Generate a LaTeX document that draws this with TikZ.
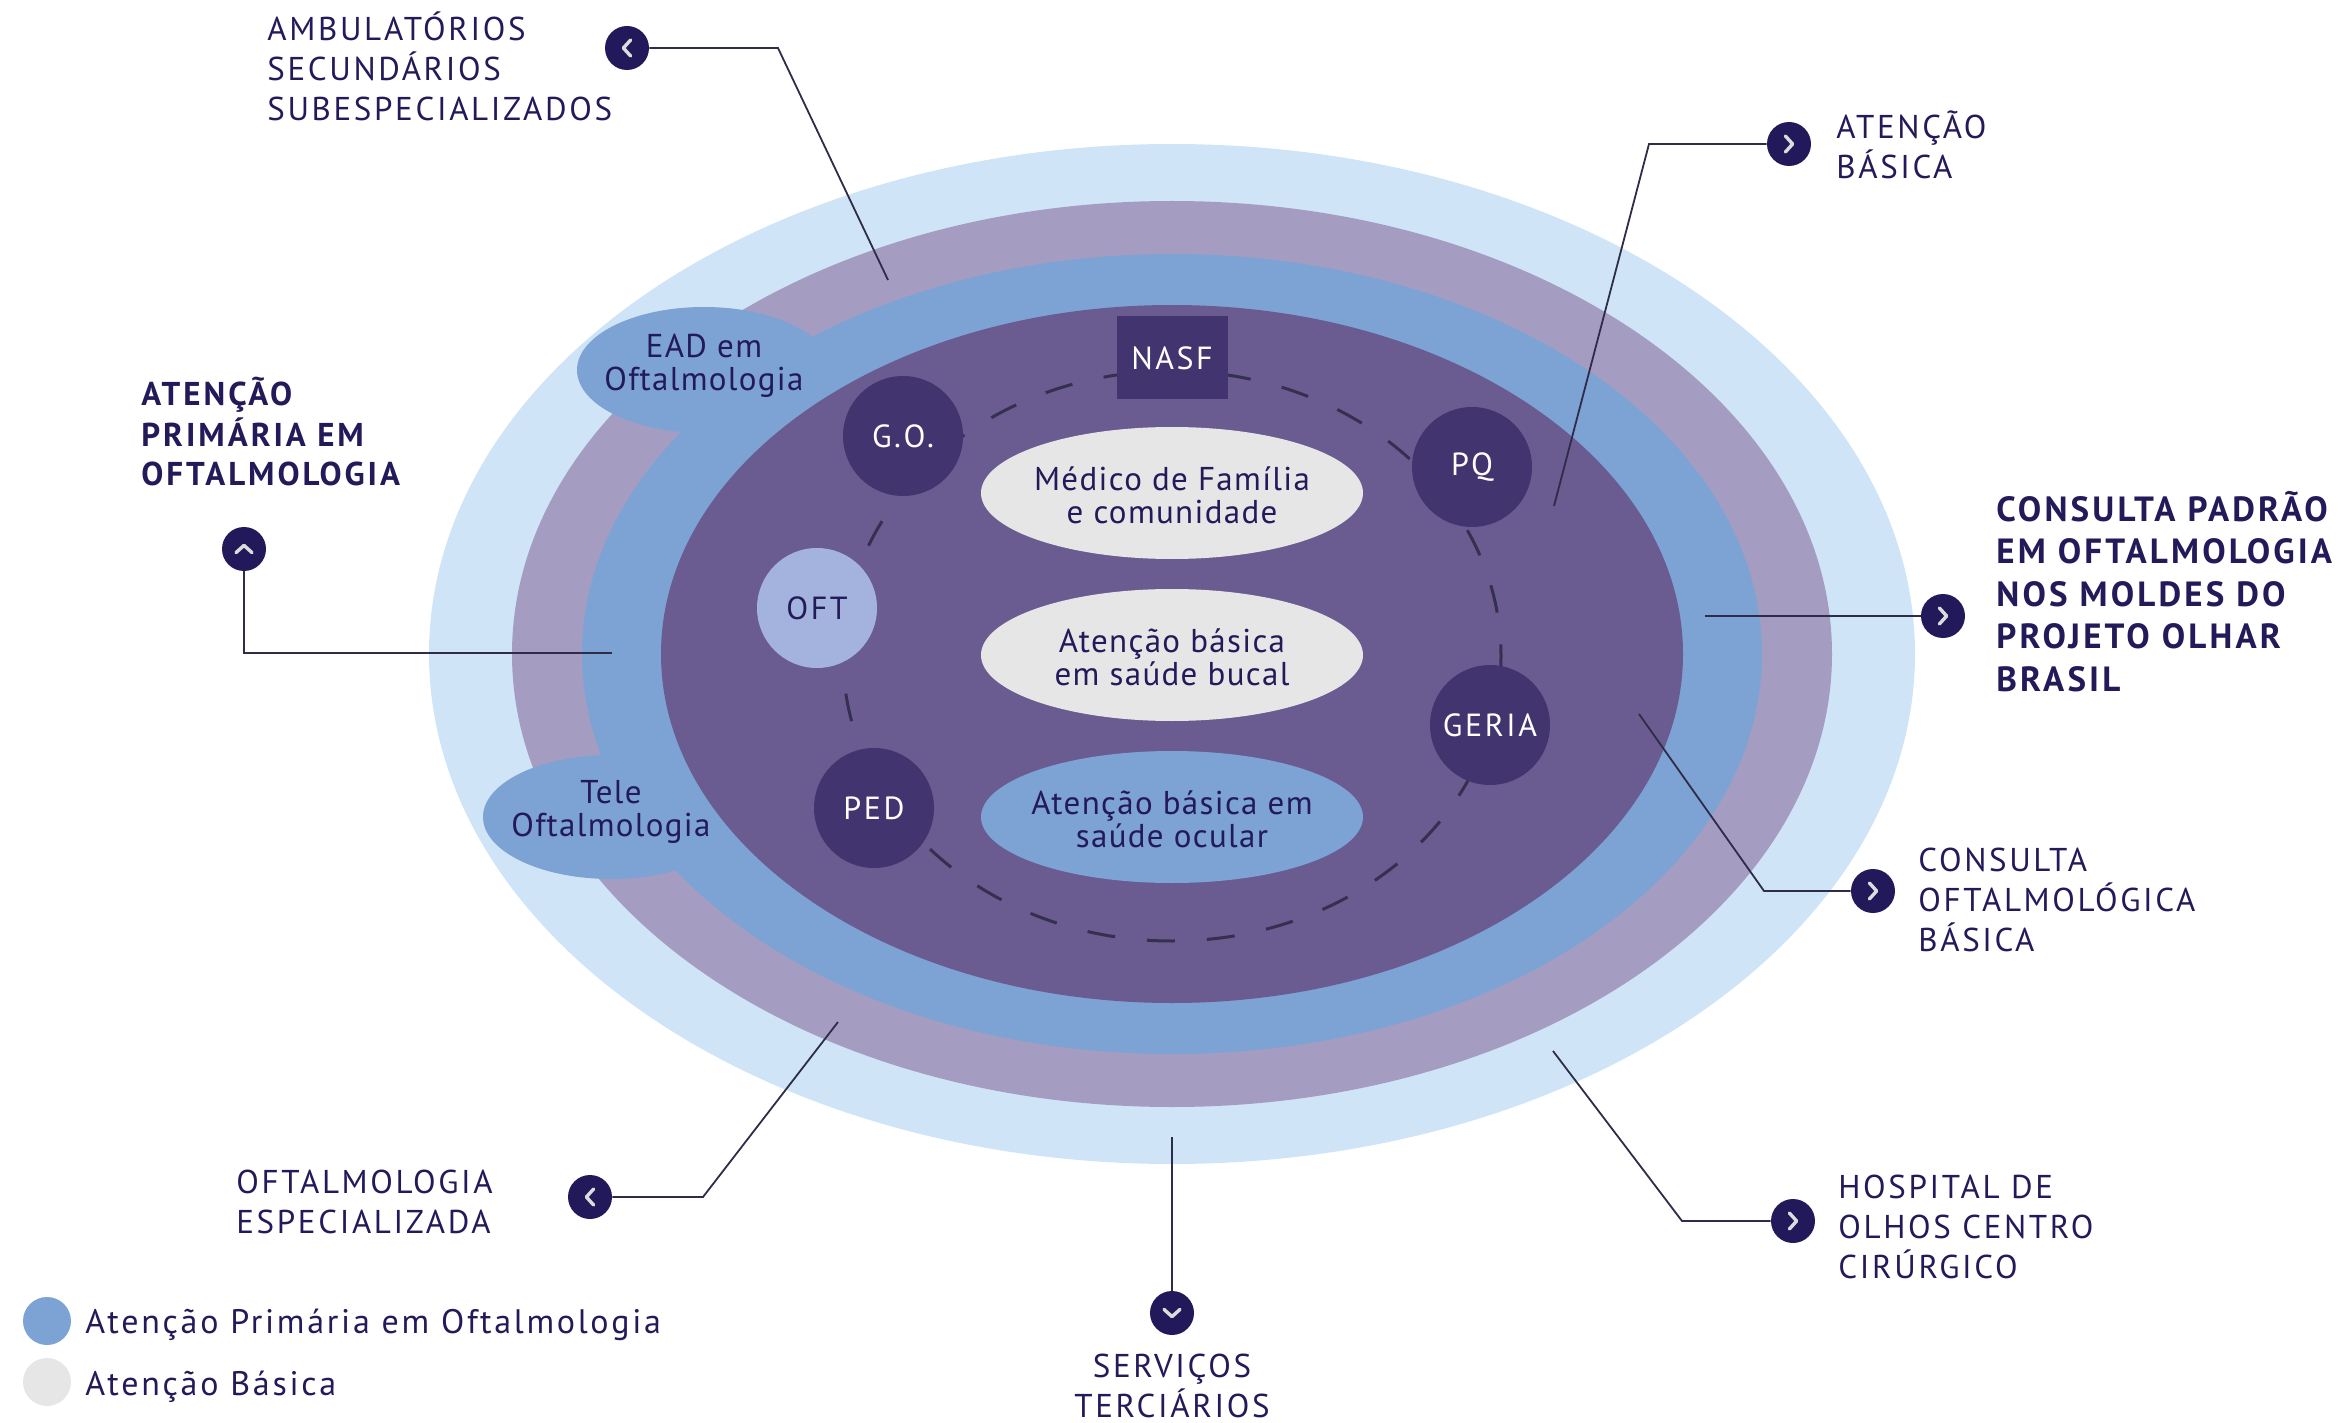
\documentclass[tikz,border=0pt]{standalone}
\usepackage{fontspec}
\setmainfont{PT Sans}
\newfontfamily\lblfont[LetterSpace=8]{PT Sans}
\newfontfamily\lblBfont[LetterSpace=9]{PT Sans Bold}
\newfontfamily\inFont[LetterSpace=4]{PT Sans}
\usetikzlibrary{shapes.geometric}
\definecolor{ringA}{HTML}{CFE5F7}
\definecolor{ringB}{HTML}{A59DC1}
\definecolor{ringC}{HTML}{7DA2D4}
\definecolor{ringD}{HTML}{6A5B91}
\definecolor{dk}{HTML}{42356F}
\definecolor{oftc}{HTML}{A3B3DE}
\definecolor{lg}{HTML}{E6E6E6}
\definecolor{navy}{HTML}{231A5A}
\definecolor{mkc}{HTML}{22195A}
\definecolor{linec}{HTML}{2E2C48}
\definecolor{dashc}{HTML}{35304F}
\definecolor{chevc}{HTML}{DCDCDC}
\tikzset{
  lbl/.style={font=\lblfont\fontsize{16.5}{20}\selectfont, text=navy, align=left, inner sep=0pt, anchor=base west},
  lblb/.style={font=\lblBfont\fontsize{16.5}{20}\selectfont, text=navy, align=left, inner sep=0pt, anchor=base west},
  cell/.style={ellipse, minimum width=191pt, minimum height=66pt, inner sep=0pt},
  ctext/.style={font=\inFont\fontsize{16.5}{16.5}\selectfont, text=navy, align=center, inner sep=0pt},
  blob/.style={ellipse, fill=ringC, inner sep=0pt},
  sat/.style={circle, fill=dk, minimum size=60pt, inner sep=0pt, text=white, font=\lblfont\fontsize{16}{16}\selectfont},
  chev/.style={draw=chevc, line width=1.7pt, line cap=round, line join=round},
  mk/.style={circle, fill=mkc, minimum size=22pt, inner sep=0pt},
  mkR/.style={mk, path picture={\draw[chev] ([xshift=-1.8pt,yshift=4pt]path picture bounding box.center) -- ++(3.6pt,-4pt) -- ++(-3.6pt,-4pt);}},
  mkL/.style={mk, path picture={\draw[chev] ([xshift=1.8pt,yshift=4pt]path picture bounding box.center) -- ++(-3.6pt,-4pt) -- ++(3.6pt,-4pt);}},
  mkU/.style={mk, path picture={\draw[chev] ([xshift=-4pt,yshift=-1.8pt]path picture bounding box.center) -- ++(4pt,3.6pt) -- ++(4pt,-3.6pt);}},
  mkD/.style={mk, path picture={\draw[chev] ([xshift=-4pt,yshift=1.8pt]path picture bounding box.center) -- ++(4pt,-3.6pt) -- ++(4pt,3.6pt);}},
  cl/.style={draw=linec, line width=0.9pt},
  legdot/.style={circle, minimum size=24pt, inner sep=0pt},
}
\begin{document}
\begin{tikzpicture}[x=0.5pt, y=-0.5pt]
\useasboundingbox (0,0) rectangle (2347,1423);
% rings
\fill[ringA] (1172,654) ellipse [x radius=743, y radius=510];
\fill[ringB] (1172,654) ellipse [x radius=660, y radius=453];
\fill[ringC] (1172,654) ellipse [x radius=590, y radius=400];
\node[blob, minimum width=127pt, minimum height=63pt] (ead) at (704,370) {};
\node[blob, minimum width=128pt, minimum height=62pt] (tele) at (611,817) {};
\fill[ringD] (1172,654) ellipse [x radius=511, y radius=349];
\node[ctext] (eadt) at (704,366) {EAD em\\Oftalmologia};
\node[ctext] (telet) at (611,812) {Tele\\Oftalmologia};
% dashed ring
\draw[dashc, line width=1.5pt, dash pattern=on 14pt off 16pt] (1172,656) ellipse [x radius=329, y radius=285];
% satellites
\node[sat] (go) at (903,436) {G.O.};
\node[sat] (pq) at (1472,467) {PQ};
\node[sat] (geria) at (1490,725) {GERIA};
\node[sat] (ped) at (874,808) {PED};
\node[sat, fill=oftc, text=navy] (oft) at (817,608) {OFT};
\node[rectangle, fill=dk, minimum width=55.5pt, minimum height=41.5pt, inner sep=0pt, text=white, font=\lblfont\fontsize{16}{16}\selectfont] (nasf) at (1172,358) {NASF};
% centre cells
\node[cell, fill=lg] (med) at (1172,493) {};
\node[ctext] (medt) at (1172,495) {Médico de Família\\e comunidade};
\node[cell, fill=lg] (buc) at (1172,655) {};
\node[ctext] (buct) at (1172,657) {Atenção básica\\em saúde bucal};
\node[cell, fill=ringC] (ocu) at (1172,817) {};
\node[ctext] (ocut) at (1172,819) {Atenção básica em\\saúde ocular};
% labels (anchor = baseline of last line)
\node[lbl] (tamb) at (267,121) {AMBULATÓRIOS\\SECUNDÁRIOS\\SUBESPECIALIZADOS};
\node[lblb] (tapo) at (141,486) {ATENÇÃO\\PRIMÁRIA EM\\OFTALMOLOGIA};
\node[lbl] (tab) at (1836,179) {ATENÇÃO\\BÁSICA};
\node[lblb, font=\lblBfont\fontsize{17.5}{21.25}\selectfont] (tcp) at (1996,691) {CONSULTA PADRÃO\\EM OFTALMOLOGIA\\NOS MOLDES DO\\PROJETO OLHAR\\BRASIL};
\node[lbl] (tcob) at (1918,951) {CONSULTA\\OFTALMOLÓGICA\\BÁSICA};
\node[lbl] (thoc) at (1838,1278) {HOSPITAL DE\\OLHOS CENTRO\\CIRÚRGICO};
\node[lbl, align=center, anchor=base] (tst) at (1172,1417) {SERVIÇOS\\TERCIÁRIOS};
\node[lbl] (toe) at (236,1233) {OFTALMOLOGIA\\ESPECIALIZADA};
% markers
\node[mkL] (mamb) at (627,48) {};
\node[mkU] (mapo) at (244,549) {};
\node[mkR] (mab) at (1789,144) {};
\node[mkR] (mcp) at (1943,616) {};
\node[mkR] (mcob) at (1873,891) {};
\node[mkR] (mhoc) at (1793,1221) {};
\node[mkD] (mst) at (1172,1313) {};
\node[mkL] (moe) at (590,1197) {};
% connector ends
\coordinate (eamb) at (888,280);
\coordinate (kamb) at (778,48);
\coordinate (eapo) at (612,653);
\coordinate (eab) at (1554,506);
\coordinate (kab) at (1649,144);
\coordinate (ecp) at (1705,616);
\coordinate (ecob) at (1639,714);
\coordinate (kcob) at (1764,891);
\coordinate (ehoc) at (1553,1051);
\coordinate (khoc) at (1682,1221);
\coordinate (est) at (1172,1137);
\coordinate (eoe) at (838,1022);
\coordinate (koe) at (703,1197);
\draw[cl] (mamb) -- (kamb) -- (eamb);
\draw[cl] (eapo) -| (mapo);
\draw[cl] (mab) -- (kab) -- (eab);
\draw[cl] (mcp) -- (ecp);
\draw[cl] (mcob) -- (kcob) -- (ecob);
\draw[cl] (mhoc) -- (khoc) -- (ehoc);
\draw[cl] (mst) -- (est);
\draw[cl] (moe) -- (koe) -- (eoe);
% legend
\node[legdot, fill=ringC] (lg1) at (47,1321) {};
\node[legdot, fill=lg] (lg2) at (47,1382) {};
\node[lbl, font=\lblfont\fontsize{17}{20}\selectfont] (lt1) at (85,1333) {Atenção Primária em Oftalmologia};
\node[lbl, font=\lblfont\fontsize{17}{20}\selectfont] (lt2) at (85,1395) {Atenção Básica};
\end{tikzpicture}
\end{document}
